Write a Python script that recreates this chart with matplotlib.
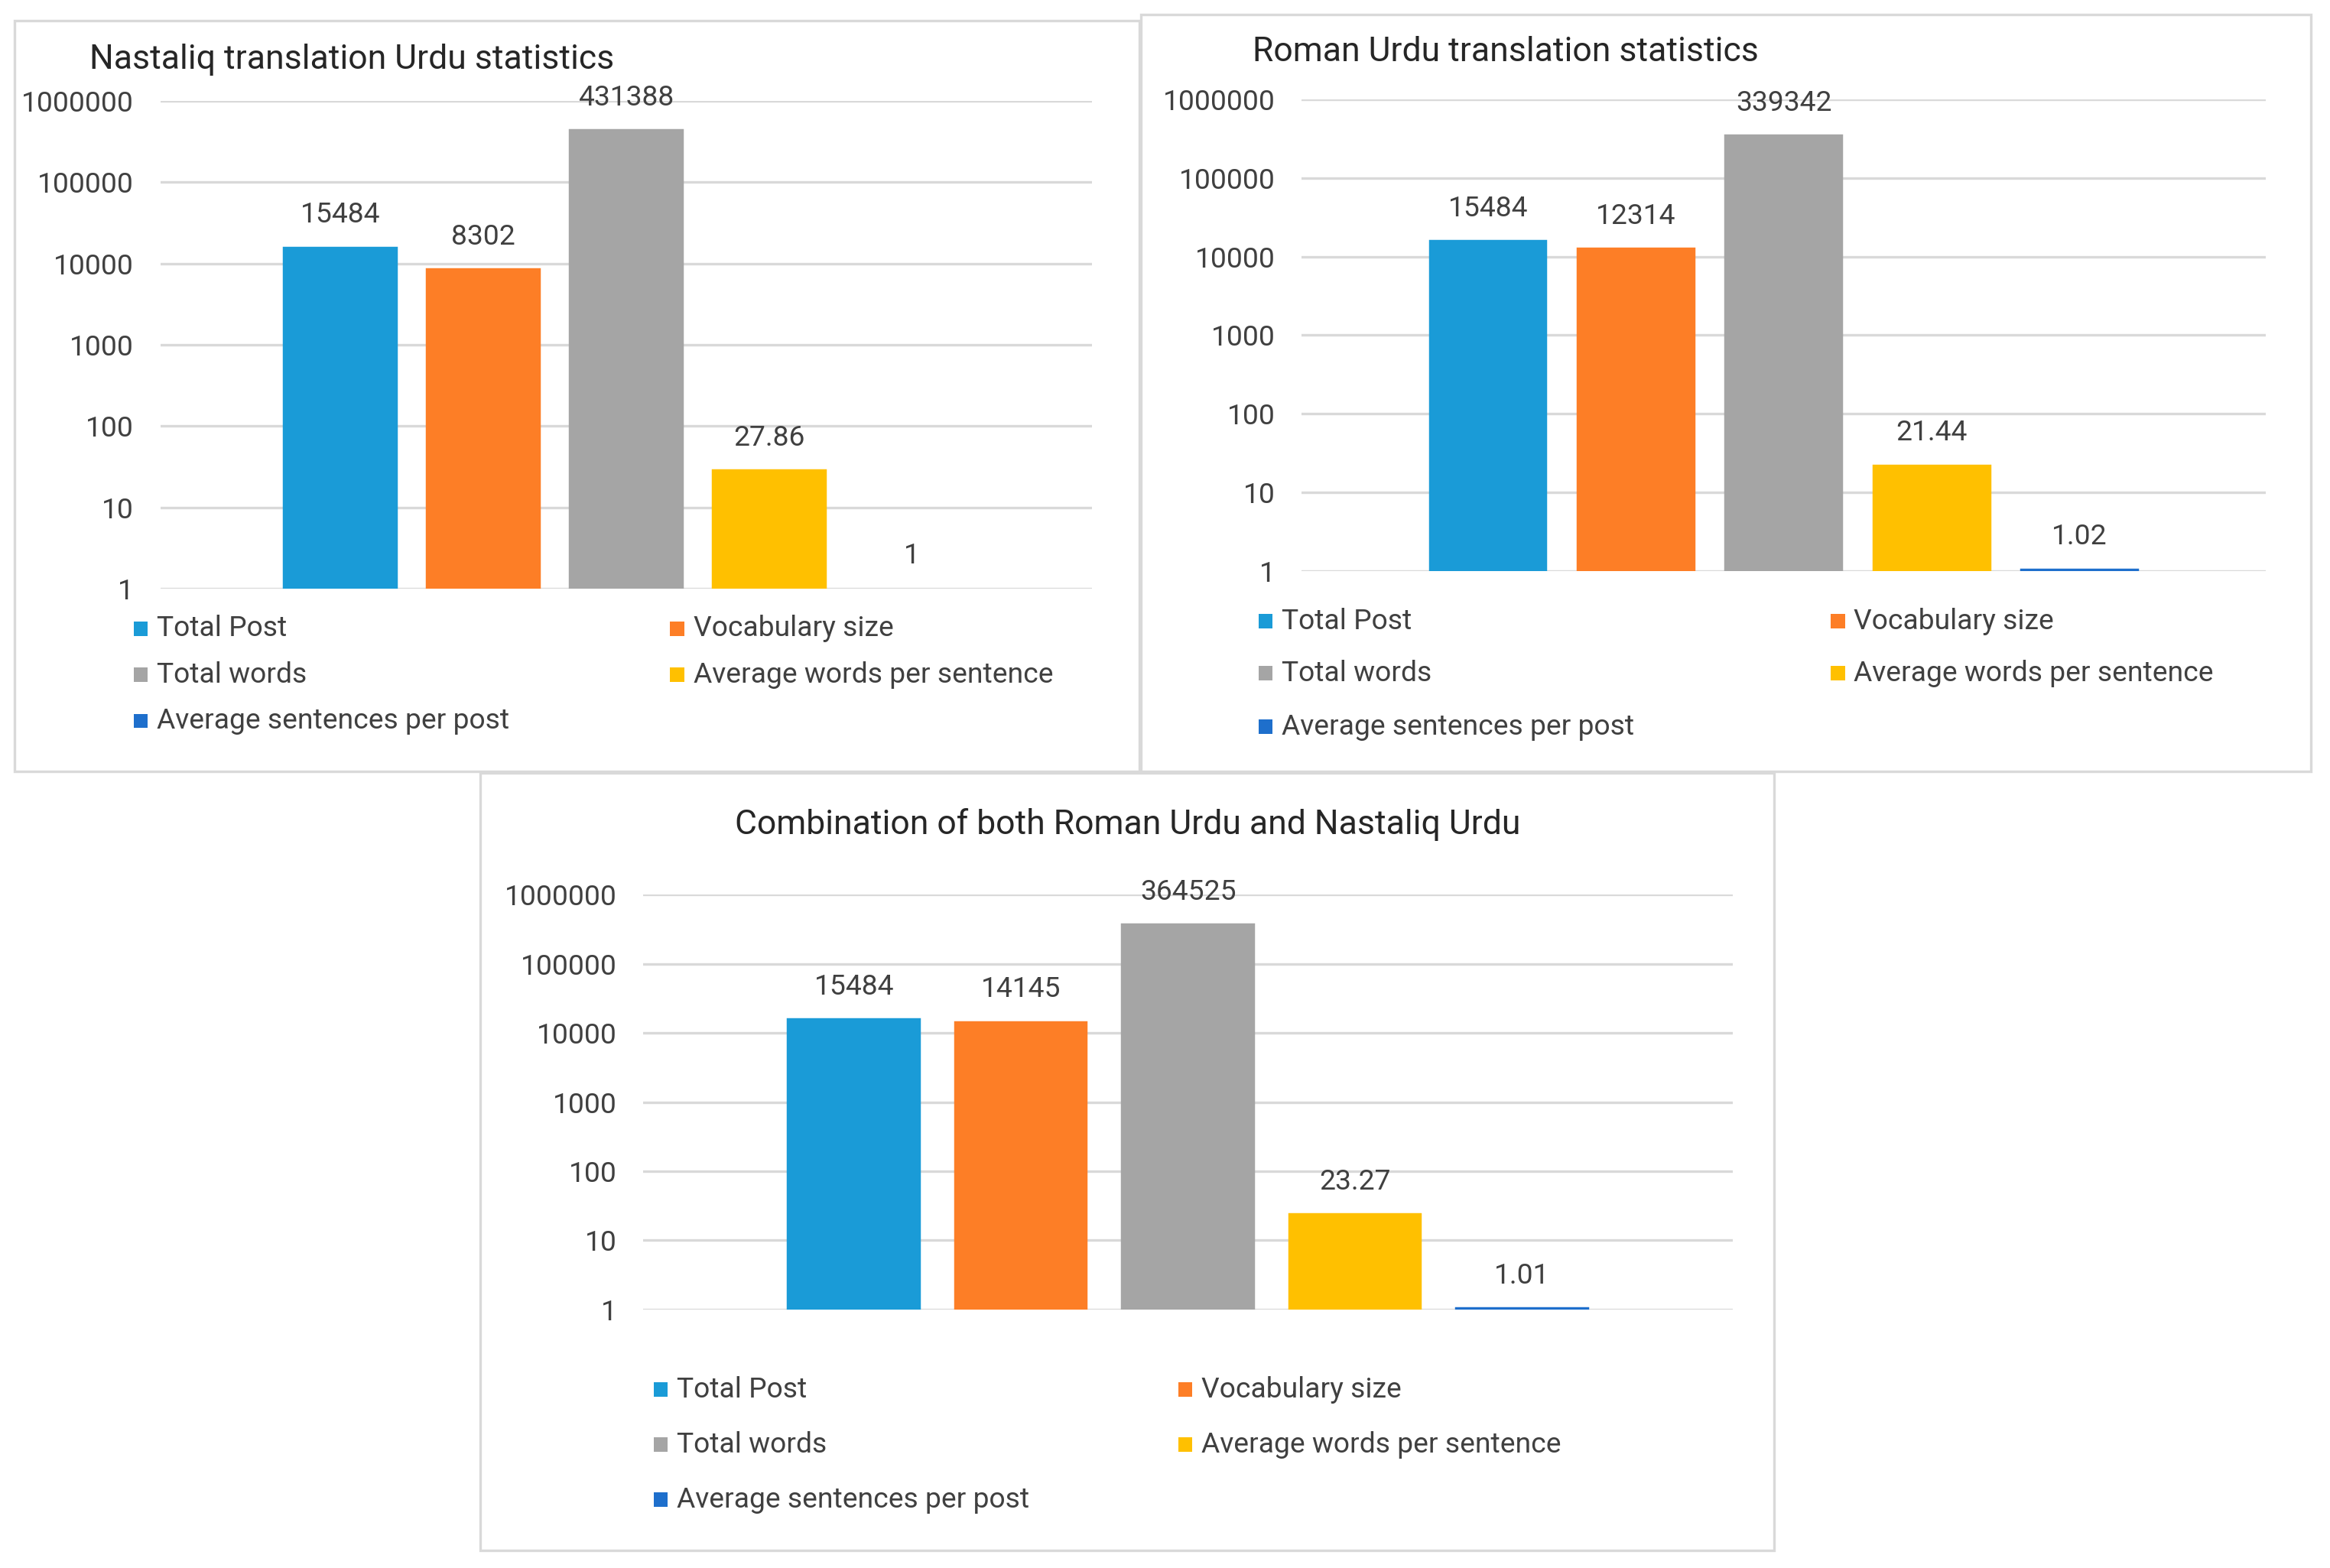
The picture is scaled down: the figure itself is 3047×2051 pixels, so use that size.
import numpy as np
import matplotlib
matplotlib.use("Agg")
import matplotlib.pyplot as plt
from matplotlib.patches import Rectangle
from matplotlib.ticker import FixedLocator, FuncFormatter

plt.rcParams["font.family"] = ["Roboto", "DejaVu Sans"]

# data
series = [
    "Total Post",
    "Vocabulary size",
    "Total words",
    "Average words per sentence",
    "Average sentences per post",
]
nastaliq = [15484, 8302, 431388, 27.86, 1]
roman = [15484, 12314, 339342, 21.44, 1.02]
combined = [15484, 14145, 364525, 23.27, 1.01]
titles = [
    "Nastaliq translation Urdu statistics",
    "Roman Urdu translation statistics",
    "Combination of both Roman Urdu and Nastaliq Urdu",
]
yticks = [1, 10, 100, 1000, 10000, 100000, 1000000]

colors = ["#1A9BD7", "#FD7E26", "#A5A5A5", "#FFC000", "#1E6FCC"]
TXT = "#404040"
GRID = "#D9D9D9"

# layout in a 1568 x 1055 reference grid
W, H = 1568.0, 1055.0


def fx(x):
    return x / W


def fy(y):
    return 1 - y / H


fig = plt.figure(figsize=(15.235, 10.255), dpi=200)
fig.patch.set_facecolor("white")

panels = [
    # box (x0, y0, x1, y1), axes (x0, y0, x1, y1), title (x, y, ha), legend cols, legend rows
    dict(box=(10, 14, 767, 519), ax=(108, 68, 735, 396), title=(60, 40, "left"),
         cols=(90, 451), rows=(423, 454, 485), data=nastaliq),
    dict(box=(768, 10, 1555, 519), ax=(876, 67, 1525, 384), title=(843, 35, "left"),
         cols=(847, 1232), rows=(418, 453, 489), data=roman),
    dict(box=(323, 520, 1194, 1043), ax=(433, 602, 1166, 881), title=(759, 555, "center"),
         cols=(440, 793), rows=(935, 972, 1009), data=combined),
]

for p, title in zip(panels, titles):
    bx0, by0, bx1, by1 = p["box"]
    fig.add_artist(Rectangle((fx(bx0), fy(by1)), fx(bx1) - fx(bx0), fy(by0) - fy(by1),
                             transform=fig.transFigure, fill=False,
                             edgecolor=GRID, linewidth=1.2))

    ax0, ay0, ax1, ay1 = p["ax"]
    ax = fig.add_axes([fx(ax0), fy(ay1), fx(ax1) - fx(ax0), fy(ay0) - fy(ay1)])
    vals = p["data"]
    x = np.arange(len(series))
    lws = [1.6 if v > 1 else 0 for v in vals]
    ax.bar(x, vals, width=0.78, color=colors, edgecolor=colors, linewidth=lws, zorder=3)
    ax.set_yscale("log")
    ax.set_ylim(1, 1e6)
    ax.set_xlim(-1.26, 5.26)
    ax.yaxis.set_major_locator(FixedLocator(yticks))
    ax.yaxis.set_minor_locator(FixedLocator([]))
    ax.yaxis.set_major_formatter(FuncFormatter(lambda v, pos: f"{v:.0f}"))
    ax.set_xticks([])
    ax.grid(axis="y", color=GRID, linewidth=1.2, zorder=0)
    ax.set_axisbelow(True)
    ax.tick_params(axis="y", length=0, pad=12.5, labelsize=13.4, labelcolor=TXT)
    for s in ax.spines.values():
        s.set_visible(False)
    ax.patch.set_alpha(0)

    for xi, v in zip(x, vals):
        ax.annotate(f"{v:g}", (xi, v), xytext=(0, 12), textcoords="offset points",
                    ha="center", va="baseline", fontsize=13.4, color=TXT,
                    annotation_clip=False)

    tx, ty, ha = p["title"]
    fig.text(fx(tx), fy(ty), title, ha=ha, va="center", fontsize=16, color="#262626")

    # legend: Excel style two-column layout, filled row by row
    msz = 9.5
    for i, (name, c) in enumerate(zip(series, colors)):
        col, row = i % 2, i // 2
        lx = p["cols"][col]
        ly = p["rows"][row]
        fig.add_artist(Rectangle((fx(lx), fy(ly + msz / 2)), fx(msz), msz / H,
                                 transform=fig.transFigure, facecolor=c, edgecolor="none"))
        fig.text(fx(lx + msz + 6), fy(ly), name, ha="left", va="center",
                 fontsize=13.4, color=TXT)

fig.savefig("out.png", dpi=200, facecolor="white")
